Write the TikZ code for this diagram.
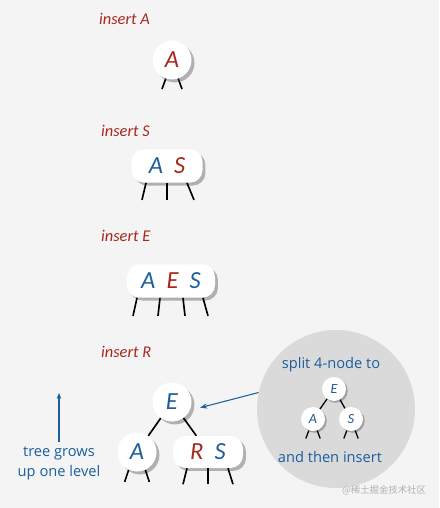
\documentclass[tikz,border=0pt]{standalone}
\usepackage{fontspec}
\setmainfont{Carlito}
\newfontfamily\notefont{Open Sans}
\newfontfamily\cjk{Noto Sans CJK SC}
\usetikzlibrary{shadows,calc,arrows.meta}

\begin{document}
\begin{tikzpicture}[x=0.03cm, y=-0.03cm]
        % -- colour definitions --------------------------------------------------
        \definecolor{keyred}{RGB}{168,40,30}
        \definecolor{keyblue}{RGB}{28,94,158}
        \definecolor{paper}{RGB}{244,244,244}
        \definecolor{splitgray}{RGB}{218,218,218}

        \tikzset{
            keyshadow/.style={drop shadow={shadow xshift=2.5pt, shadow yshift=-2.5pt, opacity=0.4, fill=black!70}},
            keycircle/.style={circle, fill=white, inner sep=0pt, minimum size=1.17cm,
                font=\itshape\fontsize{21}{21}\selectfont, keyshadow},
            keybox/.style={rectangle, rounded corners=0.38cm, fill=white, inner sep=0pt,
                minimum height=1cm, font=\itshape\fontsize{21}{21}\selectfont, keyshadow},
            smallkey/.style={circle, fill=white, inner sep=0pt, minimum size=0.72cm, text=keyblue,
                font=\itshape\fontsize{12}{12}\selectfont,
                drop shadow={shadow xshift=1.5pt, shadow yshift=-1.5pt, opacity=0.4, fill=black!70}},
            link/.style={line width=1.4pt},
            smalllink/.style={line width=1.1pt},
            steplabel/.style={anchor=west, text=keyred, font=\itshape\fontsize{14}{14}\selectfont},
            notelabel/.style={text=keyblue, font=\notefont\fontsize{12.5}{17}\selectfont, align=center},
        }

        % -- background ----------------------------------------------------------
        \fill[paper] (0,0) rectangle (439,508);
        \useasboundingbox (0,0) rectangle (439,508);

        % -- step 1: insert A ----------------------------------------------------
        \node[steplabel] (insA) at (95,19) {insert A};
        \draw[link] (172,60) ++(-6,18) coordinate (a1) -- ++(-4,11);
        \draw[link] (172,60) ++(6,18) coordinate (a2) -- ++(4,11);
        \node[keycircle, text=keyred] (nA) at (172,60) {A};

        % -- step 2: insert S ----------------------------------------------------
        \node[steplabel] (insS) at (97,131) {insert S};
        \node[keybox, minimum width=2.13cm] (nAS) at (167,166)
            {{\color{keyblue}A}\hspace{0.45em}{\color{keyred}S}};
        \foreach \dx/\ex in {-21/-25, 0/0, 20/27} {
            \draw[link] ($(nAS.south)+(\dx,0)$) -- ++({\ex-\dx},17);
        }

        % -- step 3: insert E ----------------------------------------------------
        \node[steplabel] (insE) at (97,236) {insert E};
        \node[keybox, minimum width=2.64cm] (nAES) at (171,281)
            {{\color{keyblue}A}\hspace{0.45em}{\color{keyred}E}\hspace{0.45em}{\color{keyblue}S}};
        \foreach \dx/\ex in {-34/-38, -11/-13, 12/14, 32/37} {
            \draw[link] ($(nAES.south)+(\dx,0)$) -- ++({\ex-\dx},18);
        }

        % -- step 4: insert R (split) --------------------------------------------
        \node[steplabel] (insR) at (97,352) {insert R};
        \node[keycircle, text=keyblue] (rE) at (172,402) {E};
        \node[keycircle, text=keyblue] (rA) at (137,452) {A};
        \node[keybox, minimum width=2.1cm, minimum height=0.96cm] (rRS) at (208,452)
            {{\color{keyred}R}\hspace{0.45em}{\color{keyblue}S}};
        \draw[link] (rE) -- (rA);
        \draw[link] (rE) -- (rRS);
        \draw[link] (rA.245) -- ++(-4,12);
        \draw[link] (rA.295) -- ++(4,12);
        \foreach \dx/\ex in {-21/-25, 0/0, 20/25} {
            \draw[link] ($(rRS.south)+(\dx,0)$) -- ++({\ex-\dx},16);
        }

        % -- tree grows note -----------------------------------------------------
        \node[notelabel] (grow) at (59,463) {tree grows\\up one level};
        \coordinate (growtip) at (59,393);
        \draw[keyblue, line width=0.9pt, -{Stealth[length=5pt,width=4pt]}] (grow.north) -- (growtip);

        % -- split bubble --------------------------------------------------------
        \node[circle, fill=splitgray, minimum size=4.74cm] (split) at (336,409) {};
        \draw[keyblue, line width=0.9pt, -{Stealth[length=6pt,width=4.5pt]}, shorten >=9pt]
            (split.168) -- (rE.-25);
        \node[notelabel] (splittop) at (331,365) {split 4-node to};
        \node[smallkey] (sE) at (334,389) {E};
        \node[smallkey] (sA) at (313,419) {A};
        \node[smallkey] (sS) at (351,419) {S};
        \draw[smalllink] (sE) -- (sA);
        \draw[smalllink] (sE) -- (sS);
        \foreach \n in {sA, sS} {
            \draw[smalllink] (\n.250) -- ++(-3,8);
            \draw[smalllink] (\n.290) -- ++(3,8);
        }
        \node[notelabel] (splitbot) at (330,457) {and then insert};

        % -- watermark -----------------------------------------------------------
        \node[text=black!30, font=\cjk\fontsize{8}{8}\selectfont] (mark) at (384,490) {@稀土掘金技术社区};
    \end{tikzpicture}
\end{document}
